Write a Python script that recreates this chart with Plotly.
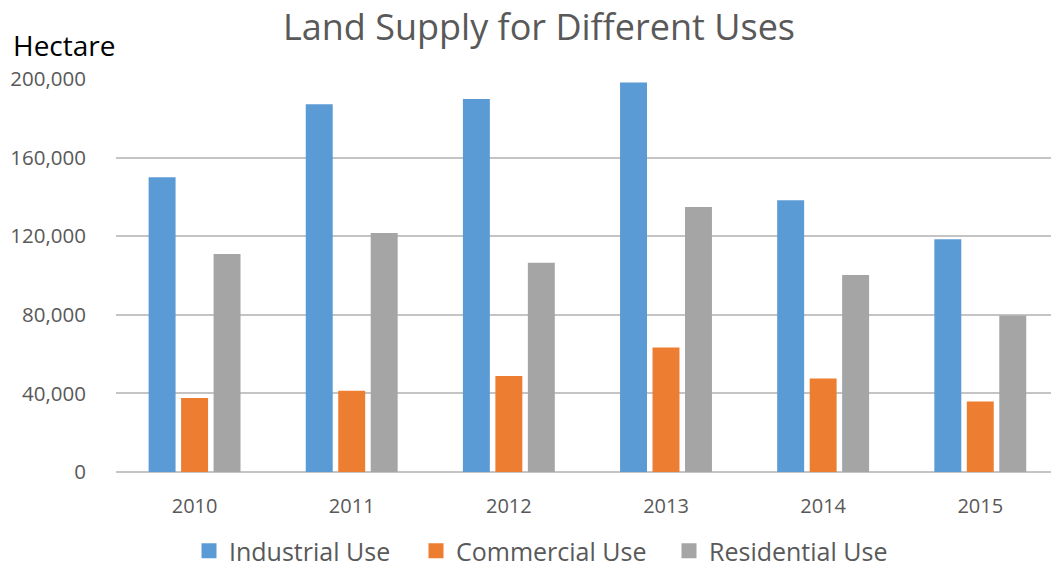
import plotly.graph_objects as go

years = ["2010", "2011", "2012", "2013", "2014", "2015"]
industrial = [150000, 187200, 189800, 198200, 138300, 118500]
commercial = [37700, 41400, 48900, 63400, 47600, 35900]
residential = [111000, 121600, 106500, 134900, 100200, 79700]
series_names = ["Industrial Use", "Commercial Use", "Residential Use"]
colors = ["#5B9BD5", "#ED7D31", "#A5A5A5"]
y_ticks = [0, 40000, 80000, 120000, 160000, 200000]

FONT = "Open Sans"
GREY = "#595959"

# plot area in pixels
L, T, B = 116, 79, 472.5
W = 1051 - L
H = B - T

def px_x(px):
    return (px - L) / W

def px_y(py):
    return (B - py) / H

fig = go.Figure()
for name, vals, col in zip(series_names, [industrial, commercial, residential], colors):
    fig.add_trace(go.Bar(x=years, y=vals, name=name, marker_color=col,
                         marker_line_width=0, showlegend=False))
legend_ids = ["legend", "legend2", "legend3"]
for name, col, lg in zip(series_names, colors, legend_ids):
    fig.add_trace(go.Scatter(x=[None], y=[None], mode="markers", name=name, legend=lg,
                             marker=dict(symbol="square", size=15, color=col)))

legend_left_px = [189, 416, 669]
legend_common = dict(orientation="h", xref="container", yref="container",
                     xanchor="left", y=1-551/569, yanchor="middle",
                     font=dict(size=25, color=GREY, family=FONT), itemsizing="trace",
                     bgcolor="rgba(0,0,0,0)", borderwidth=0)
legends = {}
for lg, lx in zip(legend_ids, legend_left_px):
    legends[lg] = dict(legend_common, x=lx/1051)

fig.update_layout(
    width=1051, height=569,
    margin=dict(l=L, r=0, t=T, b=569 - B),
    paper_bgcolor="white", plot_bgcolor="white",
    barmode="group", bargap=0.38, bargroupgap=0.17,
    font=dict(family=FONT, color=GREY),
    title=dict(text="Land Supply for Different Uses", x=539/1051, xanchor="center",
               y=1-27/569, yanchor="middle", font=dict(size=36, color=GREY, family=FONT)),
    xaxis=dict(type="category", range=[-0.5, 5.45], showgrid=False, showline=False,
               ticks="outside", ticklen=16, tickcolor="rgba(0,0,0,0)",
               tickfont=dict(size=20, color=GREY, family=FONT)),
    yaxis=dict(range=[0, 200000], tickvals=y_ticks, tickformat=",d",
               showgrid=True, gridcolor="#C4C4C4", gridwidth=2,
               zeroline=True, zerolinecolor="#C4C4C4", zerolinewidth=2,
               ticks="outside", ticklen=25, tickcolor="rgba(0,0,0,0)",
               tickfont=dict(size=20.5, color=GREY, family=FONT)),
    annotations=[dict(text="Hectare", xref="paper", yref="paper",
                      x=px_x(11), xanchor="left", y=px_y(45), yanchor="middle",
                      showarrow=False, font=dict(size=28, color="black", family=FONT))],
    **legends,
)

fig.write_html("out.html")
